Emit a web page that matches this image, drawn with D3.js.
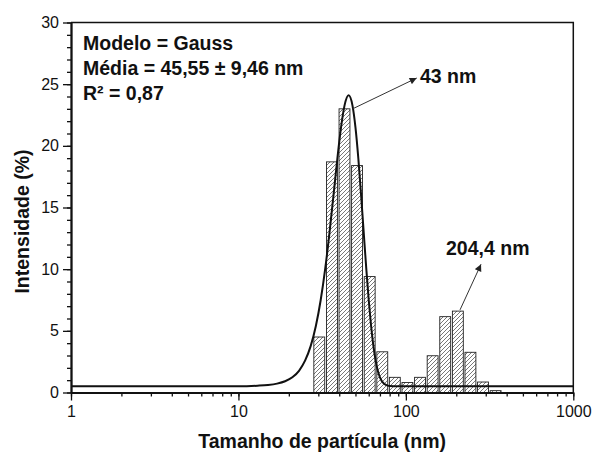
<!DOCTYPE html>
<html>
<head>
<meta charset="utf-8">
<script src="https://cdn.jsdelivr.net/npm/d3@7"></script>
<style>
  html, body { margin: 0; padding: 0; background: #fff; }
  svg { display: block; font-family: "Liberation Sans", Arial, sans-serif; }
</style>
</head>
<body>
<svg id="chart" width="593" height="452"></svg>
<script>
// ---- Data ----
const sizes = [30.4, 36.2, 43.0, 51.1, 60.8, 72.3, 85.9, 102.2, 121.5, 144.5, 171.8, 204.4, 243.0, 288.9, 343.5];
const intensity = [4.5, 18.7, 23.0, 18.4, 9.4, 3.3, 1.23, 0.81, 1.23, 2.98, 6.15, 6.6, 3.26, 0.85, 0.15];

// Gauss fit curve
const fitX = [1, 5, 10, 13, 15, 17, 19, 21, 23, 25, 27, 29, 31, 33, 35, 37, 39, 41, 43, 45.5, 48, 50, 52, 54, 56, 58, 60, 62, 64, 66, 68, 70, 73, 76, 80, 90, 100, 200, 500, 1000];
const fitY = [0.5, 0.5, 0.5, 0.55, 0.61, 0.72, 0.91, 1.23, 1.76, 2.58, 3.76, 5.39, 7.5, 10.06, 12.98, 16.04, 18.99, 21.49, 23.26, 24.1, 23.26, 21.49, 18.99, 16.04, 12.98, 10.06, 7.5, 5.39, 3.76, 2.58, 1.76, 1.23, 0.8, 0.61, 0.52, 0.5, 0.5, 0.5, 0.5, 0.5];

const xTicks = [1, 10, 100, 1000];
const yTicks = [0, 5, 10, 15, 20, 25, 30];
const xTitle = "Tamanho de partícula (nm)";
const yTitle = "Intensidade (%)";
const infoLines = ["Modelo = Gauss", "Média = 45,55 ± 9,46 nm", "R² = 0,87"];
const peakLabels = ["43 nm", "204,4 nm"];
// arrows: [fromSize, fromValue, toSize, toValue]
const arrows = [[48.1, 23.0, 116.1, 25.5], [210.6, 6.7, 281.1, 10.4]];
// label anchor [size, value]
const labelPos = [[121.5, 25.1], [173.7, 11.15]];

// ---- Layout ----
const svg = d3.select("#chart");
const x = d3.scaleLog().domain([1, 1000]).range([71, 573.3]);
const y = d3.scaleLinear().domain([0, 30]).range([392.5, 22.5]);
const ratio = Math.sqrt(sizes[1] / sizes[0]);

const defs = svg.append("defs");
const pat = defs.append("pattern")
  .attr("id", "hatch").attr("patternUnits", "userSpaceOnUse")
  .attr("width", 4).attr("height", 4);
pat.append("rect").attr("width", 4).attr("height", 4).attr("fill", "#fff");
pat.append("path").attr("d", "M-1,1 l2,-2 M0,4 l4,-4 M3,5 l2,-2")
  .attr("stroke", "#555").attr("stroke-width", 0.8);

defs.append("marker").attr("id", "arrowhead")
  .attr("viewBox", "0 0 10 10").attr("refX", 10).attr("refY", 5)
  .attr("markerWidth", 9).attr("markerHeight", 7).attr("markerUnits", "userSpaceOnUse")
  .attr("orient", "auto")
  .append("path").attr("d", "M0,0 L10,5 L0,10 Z").attr("fill", "#222");

// bars
const gap = 1.8;
svg.append("g").selectAll("rect").data(sizes).join("rect")
  .attr("x", d => x(d / ratio) + gap / 2)
  .attr("width", d => x(d * ratio) - x(d / ratio) - gap)
  .attr("y", (d, i) => y(intensity[i]))
  .attr("height", (d, i) => y(0) - y(intensity[i]))
  .attr("fill", "url(#hatch)")
  .attr("stroke", "#222").attr("stroke-width", 0.9);

// fit curve
const fitData = fitX.map((d, i) => [d, fitY[i]]);
svg.append("path").datum(fitData)
  .attr("d", d3.line().x(d => x(d[0])).y(d => y(d[1])).curve(d3.curveMonotoneX))
  .attr("fill", "none").attr("stroke", "#111").attr("stroke-width", 2);

// frame top/right
svg.append("path")
  .attr("d", `M${x(1)},${y(30)} H${x(1000)} V${y(0)}`)
  .attr("fill", "none").attr("stroke", "#111").attr("stroke-width", 1.5);

// axes
const fontAxis = "16px";
const xAxisG = svg.append("g").attr("transform", `translate(0,${y(0)})`);
xAxisG.call(d3.axisBottom(x).tickValues(x.ticks()).tickSize(4).tickFormat("").tickSizeOuter(0));
xAxisG.append("g").call(d3.axisBottom(x).tickValues(xTicks).tickSize(8).tickPadding(5).tickFormat(d3.format("d")).tickSizeOuter(0));
xAxisG.selectAll("path.domain").attr("stroke", "#111").attr("stroke-width", 1.8);
xAxisG.selectAll(".tick line").attr("stroke", "#111").attr("stroke-width", 1.3);
xAxisG.selectAll("text").attr("fill", "#111").style("font-size", fontAxis).style("font-family", "Liberation Sans, Arial, sans-serif");

const yAxisG = svg.append("g").attr("transform", `translate(${x(1)},0)`);
yAxisG.call(d3.axisLeft(y).tickValues(d3.range(0, 31)).tickSize(4).tickFormat("").tickSizeOuter(0));
yAxisG.append("g").call(d3.axisLeft(y).tickValues(yTicks).tickSize(8).tickPadding(4).tickSizeOuter(0));
yAxisG.selectAll("path.domain").attr("stroke", "#111").attr("stroke-width", 1.8);
yAxisG.selectAll(".tick line").attr("stroke", "#111").attr("stroke-width", 1.3);
yAxisG.selectAll("text").attr("fill", "#111").style("font-size", fontAxis).style("font-family", "Liberation Sans, Arial, sans-serif");

// titles
svg.append("text").attr("x", (x(1) + x(1000)) / 2).attr("y", 448)
  .attr("text-anchor", "middle").attr("font-weight", "bold").attr("font-size", "19.5px").attr("fill", "#111")
  .text(xTitle);
svg.append("text").attr("transform", `translate(29,${(y(0) + y(30)) / 2 + 14}) rotate(-90)`)
  .attr("text-anchor", "middle").attr("font-weight", "bold").attr("font-size", "19.5px").attr("fill", "#111")
  .text(yTitle);

// info block
svg.append("g").selectAll("text").data(infoLines).join("text")
  .attr("x", 83).attr("y", (d, i) => 50 + i * 25)
  .attr("font-weight", "bold").attr("font-size", "19.5px").attr("fill", "#111")
  .text(d => d);

// arrows and peak labels
svg.append("g").selectAll("line").data(arrows).join("line")
  .attr("x1", d => x(d[0])).attr("y1", d => y(d[1]))
  .attr("x2", d => x(d[2])).attr("y2", d => y(d[3]))
  .attr("stroke", "#333").attr("stroke-width", 1)
  .attr("marker-end", "url(#arrowhead)");
svg.append("g").selectAll("text").data(peakLabels).join("text")
  .attr("x", (d, i) => x(labelPos[i][0])).attr("y", (d, i) => y(labelPos[i][1]))
  .attr("font-weight", "bold").attr("font-size", "19.5px").attr("fill", "#111")
  .text(d => d);
</script>
</body>
</html>
